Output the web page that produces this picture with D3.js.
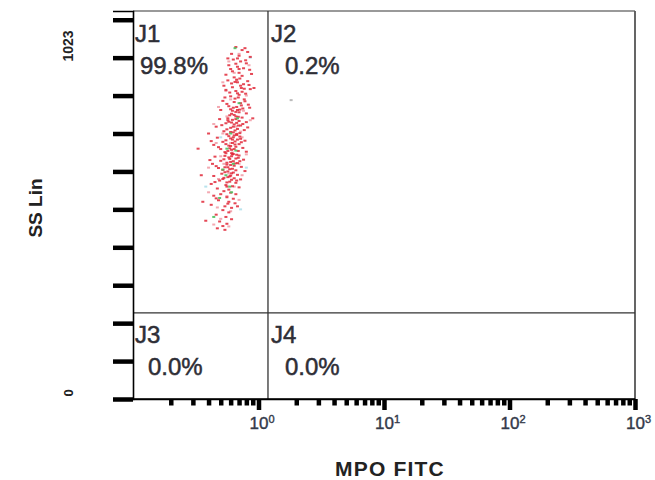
<!DOCTYPE html>
<html><head><meta charset="utf-8">
<script src="https://cdn.jsdelivr.net/npm/d3@7"></script>
<style>body{margin:0;background:#fff}svg{display:block}text{font-family:"Liberation Sans",Arial,sans-serif}</style>
</head><body><svg id="c" width="655" height="480"></svg>
<script>
// ---- data ----
const xDomain = [0.1, 1000];
const yDomain = [0, 1023];
const yTickValues = [0,100,200,300,400,500,600,700,800,900,1000];
const xMajorTicks = [1, 10, 100, 1000];
const xMajorExp = ["0", "1", "2", "3"];
const xMinorTicks = [0.2,0.3,0.4,0.5,0.6,0.7,0.8,0.9,2,3,4,5,6,7,8,9,20,30,40,50,60,70,80,90,200,300,400,500,600,700,800,900];
const yEndLabels = ["0", "1023"];
const gateX = 1.19;   // vertical quadrant divider (MPO FITC)
const gateY = 227;    // horizontal quadrant divider (SS Lin)
const quadNames = ["J1", "J2", "J3", "J4"];
const quadPct = ["99.8%", "0.2%", "0.0%", "0.0%"];

const redPts = [
[0.66,928],[0.74,920],[0.82,915],[0.61,910],[0.70,905],[0.86,902],[0.78,925],[0.57,898],
[0.63,895],[0.72,890],[0.80,885],[0.58,880],[0.68,876],[0.76,872],[0.85,868],[0.62,864],[0.70,860],[0.88,857],[0.55,855],[0.74,852],[0.66,884],[0.79,893],[0.60,870],
[0.64,848],[0.71,845],[0.57,840],[0.82,838],[0.68,835],[0.76,830],[0.53,826],[0.62,822],[0.73,820],[0.86,817],[0.66,812],[0.59,808],[0.79,805],[0.70,802],[0.55,815],[0.84,828],[0.67,842],[0.74,810],[0.61,832],[0.77,818],
[0.60,798],[0.69,795],[0.77,790],[0.52,786],[0.64,783],[0.72,780],[0.83,776],[0.58,772],[0.67,770],[0.75,766],[0.50,762],[0.62,760],[0.70,756],[0.80,753],[0.65,792],[0.73,774],[0.56,778],[0.68,762],[0.61,752],[0.78,785],[0.85,768],[0.54,795],
[0.59,748],[0.66,745],[0.74,742],[0.49,738],[0.62,736],[0.70,733],[0.80,730],[0.55,727],[0.64,724],[0.72,721],[0.46,718],[0.60,715],[0.68,712],[0.77,709],[0.53,706],[0.63,703],[0.71,701],[0.82,716],[0.57,740],[0.67,728],[0.75,725],[0.51,722],[0.65,708],[0.58,731],[0.69,744],
[0.56,698],[0.64,695],[0.71,692],[0.47,689],[0.60,687],[0.68,684],[0.78,681],[0.52,678],[0.62,675],[0.70,672],[0.44,670],[0.58,668],[0.66,665],[0.75,662],[0.50,659],[0.61,657],[0.69,654],[0.80,652],[0.55,682],[0.63,690],[0.73,677],[0.48,664],[0.59,661],[0.67,696],[0.54,651],[0.65,671],[0.72,686],[0.42,680],
[0.55,648],[0.62,645],[0.70,642],[0.45,639],[0.58,637],[0.66,634],[0.76,631],[0.50,628],[0.60,625],[0.68,622],[0.43,620],[0.56,618],[0.64,615],[0.73,612],[0.48,609],[0.59,606],[0.66,603],[0.78,601],[0.53,632],[0.61,640],[0.71,627],[0.46,614],[0.57,611],[0.63,646],[0.52,604],[0.65,621],[0.69,636],[0.41,630],
[0.54,598],[0.61,595],[0.68,591],[0.44,588],[0.57,585],[0.64,582],[0.72,579],[0.49,576],[0.59,573],[0.66,570],[0.42,567],[0.55,564],[0.62,561],[0.70,558],[0.47,555],[0.58,552],[0.52,580],[0.60,589],[0.67,576],[0.45,572],[0.56,560],[0.63,597],
[0.53,548],[0.60,544],[0.66,540],[0.44,536],[0.56,532],[0.63,528],[0.48,524],[0.58,520],[0.65,516],[0.42,512],[0.54,508],[0.61,504],[0.50,540],[0.57,515],[0.46,529],[0.68,508],
[0.52,498],[0.58,492],[0.46,486],[0.55,480],[0.61,474],[0.49,468],[0.56,462],[0.52,456],[0.47,450],[0.54,446],
[0.33,660],[0.36,520],[0.40,700],[0.90,740],[0.35,590],[0.92,820],[0.38,470],
[0.57,735],[0.61,729],[0.66,738],[0.63,718],[0.69,721],[0.56,711],[0.60,704],[0.67,699],[0.58,693],[0.62,684],
[0.65,679],[0.55,672],[0.60,667],[0.64,659],[0.57,654],[0.61,648],[0.67,644],[0.54,641],[0.59,633],[0.63,627],
[0.56,623],[0.60,617],[0.54,611],[0.62,607],[0.57,600],[0.51,594],[0.59,587],[0.53,583],[0.61,578],[0.56,571],
[0.63,768],[0.60,764],[0.66,757],[0.71,763],[0.64,749],[0.68,806],[0.72,826],[0.65,836],[0.70,870],[0.68,898]
];
const pinkPts = [
[0.70,910],[0.58,890],[0.84,880],[0.64,860],[0.52,835],[0.80,800],[0.60,790],[0.48,770],[0.76,760],[0.56,745],[0.86,735],[0.44,725],[0.66,718],[0.52,700],[0.74,690],[0.46,675],[0.62,650],[0.80,645],[0.50,640],[0.70,620],[0.40,610],[0.58,595],[0.74,590],[0.48,580],[0.64,560],[0.40,545],[0.56,535],[0.70,525],[0.47,505],[0.60,495],[0.50,475],[0.44,460],[0.58,455],[0.67,840],[0.55,812],[0.72,705],[0.60,675],[0.53,620]
];
const greenPts = [
[0.65,925],[0.68,740],[0.60,700],[0.56,660],[0.63,620],[0.52,605],[0.59,560],[0.49,530],[0.61,545],[0.44,480],[0.70,780],[0.55,590],[0.66,655]
];
const cyanPts = [[0.86,900],[0.50,690],[0.80,610],[0.38,560],[0.72,500]];
const greyPts = [[1.82,788]];

// ---- drawing ----
const svg = d3.select("#c");
const x = d3.scaleLog().domain(xDomain).range([133, 635]);
const y = d3.scaleLinear().domain(yDomain).range([399, 11]);

// frame top/right
svg.append("line").attr("x1", x(xDomain[0])).attr("x2", x(xDomain[1])).attr("y1", y(yDomain[1])).attr("y2", y(yDomain[1])).attr("stroke", "#777").attr("stroke-width", 1.3);
svg.append("line").attr("x1", x(xDomain[1])).attr("x2", x(xDomain[1])).attr("y1", y(yDomain[1])).attr("y2", y(0)).attr("stroke", "#555").attr("stroke-width", 1.8);

// quadrant lines
svg.append("line").attr("x1", x(gateX)).attr("x2", x(gateX)).attr("y1", y(yDomain[1])).attr("y2", y(0)).attr("stroke", "#333").attr("stroke-width", 1.3);
svg.append("line").attr("x1", x(xDomain[0])).attr("x2", x(xDomain[1])).attr("y1", y(gateY)).attr("y2", y(gateY)).attr("stroke", "#333").attr("stroke-width", 1.3);

// points
function drawPts(data, color, op) {
  svg.append("g").selectAll("rect").data(data).join("rect")
    .attr("x", d => x(d[0]) - 1.5).attr("y", d => y(d[1]) - 1)
    .attr("width", 3).attr("height", 2).attr("fill", color).attr("opacity", op);
}
drawPts(cyanPts, "#a8dce8", 0.8);
drawPts(pinkPts, "#f2a0aa", 0.9);
drawPts(redPts, "#e02838", 0.85);
drawPts(greenPts, "#4cc060", 0.9);
drawPts(greyPts, "#bbb", 1);

// y axis
const yAx = svg.append("g").attr("transform", `translate(${x(xDomain[0])},0)`)
  .call(d3.axisLeft(y).tickValues(yTickValues).tickSize(20).tickFormat(""));
yAx.select(".domain").attr("stroke", "#000").attr("stroke-width", 1.6);
yAx.selectAll(".tick line").attr("stroke", "#000").attr("stroke-width", 4.5);

// x axis minor
const xAxMin = svg.append("g").attr("transform", `translate(0,${y(0)})`)
  .call(d3.axisBottom(x).tickValues(xMinorTicks).tickSize(6.5).tickSizeOuter(0).tickFormat(""));
xAxMin.select(".domain").attr("stroke", "#000").attr("stroke-width", 1.6);
xAxMin.selectAll(".tick line").attr("stroke", "#000").attr("stroke-width", 4.5);
// x axis major
const xAxMaj = svg.append("g").attr("transform", `translate(0,${y(0)})`)
  .call(d3.axisBottom(x).tickValues(xMajorTicks).tickSize(11).tickSizeOuter(0).tickFormat(""));
xAxMaj.select(".domain").remove();
xAxMaj.selectAll(".tick line").attr("stroke", "#000").attr("stroke-width", 4.5);
svg.append("line").attr("x1", x(xDomain[0]) - 20).attr("x2", x(xDomain[1])).attr("y1", y(0)).attr("y2", y(0)).attr("stroke", "#000").attr("stroke-width", 1.6);

// decade labels
const lab = svg.append("g").selectAll("text").data(xMajorTicks).join("text")
  .attr("x", d => x(d) - 9).attr("y", 429).attr("fill", "#343a4a").attr("stroke", "#343a4a").attr("stroke-width", 0.4).attr("font-size", 17);
lab.append("tspan").text("10");
lab.append("tspan").attr("dy", -6).attr("font-size", 11).text((d, i) => xMajorExp[i]);

// y end labels (rotated)
svg.append("text").attr("transform", `translate(73,${y(0) - 6}) rotate(-90)`).attr("text-anchor", "middle")
  .attr("font-size", 13).attr("font-weight", "bold").attr("fill", "#222").text(yEndLabels[0]);
svg.append("text").attr("transform", `translate(73,46) rotate(-90)`).attr("text-anchor", "middle")
  .attr("font-size", 14).attr("font-weight", "bold").attr("fill", "#222").text(yEndLabels[1]);

// axis titles
svg.append("text").attr("transform", "translate(42,208) rotate(-90)").attr("text-anchor", "middle")
  .attr("font-size", 19).attr("font-weight", "bold").attr("fill", "#222").text("SS Lin");
svg.append("text").attr("x", 390).attr("y", 476).attr("text-anchor", "middle")
  .attr("font-size", 21).attr("font-weight", "bold").attr("letter-spacing", 1.2).attr("fill", "#222").text("MPO FITC");

// quadrant labels
const qx = [x(xDomain[0]) + 2, x(gateX) + 3, x(xDomain[0]) + 2, x(gateX) + 3];
const qpx = [x(xDomain[0]) + 7, x(gateX) + 17, x(xDomain[0]) + 15, x(gateX) + 17];
const qy = [42, 42, 343, 343];
quadNames.forEach((n, i) => {
  svg.append("text").attr("x", qx[i]).attr("y", qy[i]).attr("font-size", 24).attr("fill", "#2e2e36")
    .attr("stroke", "#2e2e36").attr("stroke-width", 0.5).text(n);
  svg.append("text").attr("x", qpx[i]).attr("y", qy[i] + 32).attr("font-size", 24).attr("fill", "#2e2e36")
    .attr("stroke", "#2e2e36").attr("stroke-width", 0.5).text(quadPct[i]);
});
</script></body></html>
